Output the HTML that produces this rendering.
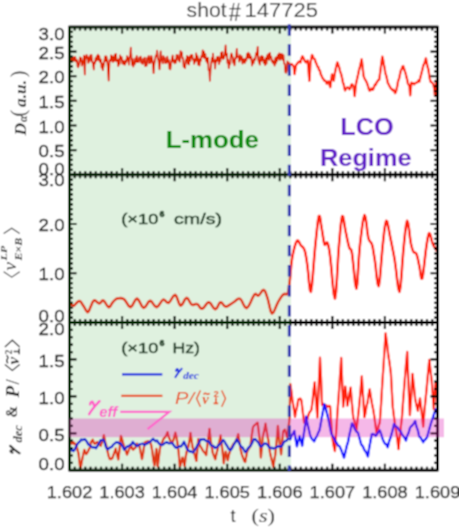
<!DOCTYPE html>
<html><head><meta charset="utf-8"><style>
html,body{margin:0;padding:0;background:#fff;}
svg{display:block;}
text{font-family:"Liberation Sans",sans-serif;}
.srf, .srf text{font-family:"Liberation Serif",serif;}
</style></head><body>
<svg width="459" height="528" viewBox="0 0 459 528">
<defs>
<clipPath id="cg"><rect x="69.5" y="27.0" width="221.5" height="443.2"/></clipPath>
<clipPath id="cw"><rect x="291.0" y="27.0" width="147.5" height="443.2"/></clipPath>
<filter id="bl" x="0" y="0" width="459" height="528" filterUnits="userSpaceOnUse"><feConvolveMatrix order="3" kernelMatrix="1 2 1 2 4 2 1 2 1" divisor="16" edgeMode="duplicate" preserveAlpha="true"/></filter>
</defs>
<g filter="url(#bl)">
<rect x="0" y="0" width="459" height="528" fill="#fff"/>

<polyline clip-path="url(#cw)" points="69.2,61.5 70.1,63.6 71.0,58.5 71.9,61.3 72.8,56.9 73.4,60.8 74.0,57.6 74.6,60.6 75.2,57.0 76.1,61.7 77.0,60.3 77.6,66.4 78.2,67.2 79.0,64.6 80.0,57.3 80.6,61.2 81.2,58.2 81.8,65.7 82.4,60.8 83.2,63.3 84.0,55.6 84.8,74.4 85.5,57.9 86.0,56.6 86.6,54.9 87.2,58.5 87.8,56.8 88.4,62.9 89.0,57.9 89.6,61.3 90.2,55.5 90.8,59.7 91.4,54.9 92.2,61.9 93.0,63.5 93.8,69.5 94.4,61.9 95.0,63.4 95.6,58.2 96.2,61.1 96.8,56.1 97.4,59.7 98.0,54.6 98.6,60.4 99.2,55.8 100.1,62.2 101.0,59.7 101.6,67.6 102.2,63.3 102.8,70.1 103.4,66.8 104.2,62.5 105.1,56.4 105.7,61.2 106.4,56.4 107.0,59.6 107.8,66.6 108.7,80.5 109.5,60.2 110.5,61.0 111.1,55.3 111.7,60.7 112.3,56.3 112.9,62.0 113.5,57.2 114.1,61.0 114.7,54.6 115.3,60.6 115.9,53.9 116.7,61.3 117.5,59.9 118.3,66.2 118.9,59.1 119.5,64.1 120.1,55.5 120.7,59.0 121.6,57.1 122.5,63.7 123.1,60.6 123.8,64.3 124.4,61.4 125.0,64.5 125.7,60.3 126.3,62.4 127.0,56.1 127.7,60.2 128.3,58.0 129.0,64.7 129.6,56.5 130.2,56.0 130.8,47.7 132.0,64.8 132.7,59.0 133.3,66.7 134.0,62.7 134.7,64.3 135.3,58.4 136.0,61.8 136.7,56.0 137.3,62.2 138.0,61.0 138.7,62.1 139.3,57.5 140.0,59.6 140.7,56.7 141.3,62.9 142.0,62.5 142.7,64.0 143.3,58.7 144.0,61.8 144.7,57.6 145.3,66.2 146.0,63.0 146.7,65.6 147.3,57.8 148.0,59.3 148.7,55.8 149.3,63.4 150.0,57.9 150.7,62.8 151.3,56.0 152.0,58.3 152.8,62.3 153.6,73.2 154.3,63.9 155.0,60.3 155.7,55.6 156.4,56.1 157.1,50.7 157.8,57.9 158.5,60.5 159.5,69.4 160.7,51.4 161.3,58.8 162.0,60.4 162.7,63.4 163.3,56.0 164.0,58.5 164.7,57.7 165.3,63.1 166.0,61.4 166.7,62.8 167.3,56.6 168.0,62.1 168.8,60.2 169.5,68.7 170.3,69.4 171.5,60.4 172.7,55.5 173.3,62.0 174.0,60.3 174.6,63.3 175.3,59.6 175.9,62.6 176.6,55.0 177.2,57.0 177.8,55.2 178.4,60.3 179.0,58.9 179.7,61.7 180.5,51.2 181.2,54.1 181.8,52.3 182.4,58.5 183.0,58.0 183.7,66.9 184.4,65.8 185.1,68.1 185.7,59.9 186.4,59.9 187.1,55.9 187.7,63.6 188.3,57.2 189.0,64.5 189.7,56.5 190.3,61.2 190.9,55.2 191.6,57.5 192.2,55.0 192.9,59.6 193.5,59.6 194.2,63.9 194.9,59.0 195.5,61.7 196.2,53.4 196.9,60.5 197.5,56.1 198.2,64.8 198.8,58.6 199.5,65.5 200.1,60.0 200.8,60.9 201.4,55.9 202.1,56.6 202.7,50.4 203.4,57.5 204.0,51.6 204.7,58.1 205.3,54.0 206.0,60.9 206.7,57.8 207.3,62.9 208.0,57.8 208.6,70.2 209.3,69.8 209.9,80.8 210.6,68.5 211.2,64.2 211.8,58.0 212.4,61.7 213.0,53.6 213.7,61.8 214.4,60.4 215.1,68.5 215.7,59.7 216.4,61.8 217.0,57.1 217.7,60.5 218.4,56.6 219.1,64.2 219.7,58.3 220.4,61.4 221.0,52.9 221.7,58.0 222.3,51.9 223.2,59.0 224.0,58.1 224.8,55.1 225.6,45.5 226.2,55.3 226.9,53.6 227.5,62.9 228.2,59.9 228.8,68.2 229.5,64.2 230.2,63.7 230.8,55.5 231.5,53.5 232.7,57.3 233.3,62.9 233.9,60.2 234.5,65.4 235.3,57.9 236.0,58.4 236.8,48.8 237.7,57.2 238.5,56.7 239.3,61.7 240.0,55.1 240.8,59.7 241.7,56.4 242.5,63.7 243.1,59.0 243.7,62.3 244.3,59.3 244.9,62.8 245.6,58.6 246.3,60.6 247.0,54.0 247.7,57.7 248.3,52.6 249.0,58.2 249.6,54.2 250.3,58.5 251.2,56.7 252.0,65.5 252.8,60.5 253.5,63.4 254.3,58.7 255.2,59.9 256.0,53.2 256.9,55.1 257.7,46.8 258.4,60.5 259.0,62.1 259.8,64.6 260.5,56.7 261.1,61.0 261.8,55.8 262.4,60.4 263.1,56.9 263.8,63.1 264.5,60.1 265.2,65.2 265.8,58.0 266.5,63.6 267.2,55.3 267.8,59.2 268.5,53.8 269.2,59.9 269.8,52.8 270.5,57.3 271.2,56.7 271.8,61.7 272.5,60.3 273.2,63.4 273.9,61.3 274.6,65.7 275.2,58.2 275.9,63.3 276.5,57.0 277.2,61.0 277.9,55.0 278.6,58.7 279.3,53.4 280.0,59.9 280.7,54.0 281.4,58.5 282.0,54.2 282.7,59.8 283.4,55.1 284.0,63.5 284.7,63.8 285.4,72.2 286.1,72.7 286.8,70.8 287.4,61.5 288.1,66.0 288.8,62.6 289.5,66.9" fill="none" stroke="#ff2810" stroke-width="1.8" stroke-linejoin="round"/>
<polyline clip-path="url(#cg)" points="69.2,61.5 70.1,63.6 71.0,58.5 71.9,61.3 72.8,56.9 73.4,60.8 74.0,57.6 74.6,60.6 75.2,57.0 76.1,61.7 77.0,60.3 77.6,66.4 78.2,67.2 79.0,64.6 80.0,57.3 80.6,61.2 81.2,58.2 81.8,65.7 82.4,60.8 83.2,63.3 84.0,55.6 84.8,74.4 85.5,57.9 86.0,56.6 86.6,54.9 87.2,58.5 87.8,56.8 88.4,62.9 89.0,57.9 89.6,61.3 90.2,55.5 90.8,59.7 91.4,54.9 92.2,61.9 93.0,63.5 93.8,69.5 94.4,61.9 95.0,63.4 95.6,58.2 96.2,61.1 96.8,56.1 97.4,59.7 98.0,54.6 98.6,60.4 99.2,55.8 100.1,62.2 101.0,59.7 101.6,67.6 102.2,63.3 102.8,70.1 103.4,66.8 104.2,62.5 105.1,56.4 105.7,61.2 106.4,56.4 107.0,59.6 107.8,66.6 108.7,80.5 109.5,60.2 110.5,61.0 111.1,55.3 111.7,60.7 112.3,56.3 112.9,62.0 113.5,57.2 114.1,61.0 114.7,54.6 115.3,60.6 115.9,53.9 116.7,61.3 117.5,59.9 118.3,66.2 118.9,59.1 119.5,64.1 120.1,55.5 120.7,59.0 121.6,57.1 122.5,63.7 123.1,60.6 123.8,64.3 124.4,61.4 125.0,64.5 125.7,60.3 126.3,62.4 127.0,56.1 127.7,60.2 128.3,58.0 129.0,64.7 129.6,56.5 130.2,56.0 130.8,47.7 132.0,64.8 132.7,59.0 133.3,66.7 134.0,62.7 134.7,64.3 135.3,58.4 136.0,61.8 136.7,56.0 137.3,62.2 138.0,61.0 138.7,62.1 139.3,57.5 140.0,59.6 140.7,56.7 141.3,62.9 142.0,62.5 142.7,64.0 143.3,58.7 144.0,61.8 144.7,57.6 145.3,66.2 146.0,63.0 146.7,65.6 147.3,57.8 148.0,59.3 148.7,55.8 149.3,63.4 150.0,57.9 150.7,62.8 151.3,56.0 152.0,58.3 152.8,62.3 153.6,73.2 154.3,63.9 155.0,60.3 155.7,55.6 156.4,56.1 157.1,50.7 157.8,57.9 158.5,60.5 159.5,69.4 160.7,51.4 161.3,58.8 162.0,60.4 162.7,63.4 163.3,56.0 164.0,58.5 164.7,57.7 165.3,63.1 166.0,61.4 166.7,62.8 167.3,56.6 168.0,62.1 168.8,60.2 169.5,68.7 170.3,69.4 171.5,60.4 172.7,55.5 173.3,62.0 174.0,60.3 174.6,63.3 175.3,59.6 175.9,62.6 176.6,55.0 177.2,57.0 177.8,55.2 178.4,60.3 179.0,58.9 179.7,61.7 180.5,51.2 181.2,54.1 181.8,52.3 182.4,58.5 183.0,58.0 183.7,66.9 184.4,65.8 185.1,68.1 185.7,59.9 186.4,59.9 187.1,55.9 187.7,63.6 188.3,57.2 189.0,64.5 189.7,56.5 190.3,61.2 190.9,55.2 191.6,57.5 192.2,55.0 192.9,59.6 193.5,59.6 194.2,63.9 194.9,59.0 195.5,61.7 196.2,53.4 196.9,60.5 197.5,56.1 198.2,64.8 198.8,58.6 199.5,65.5 200.1,60.0 200.8,60.9 201.4,55.9 202.1,56.6 202.7,50.4 203.4,57.5 204.0,51.6 204.7,58.1 205.3,54.0 206.0,60.9 206.7,57.8 207.3,62.9 208.0,57.8 208.6,70.2 209.3,69.8 209.9,80.8 210.6,68.5 211.2,64.2 211.8,58.0 212.4,61.7 213.0,53.6 213.7,61.8 214.4,60.4 215.1,68.5 215.7,59.7 216.4,61.8 217.0,57.1 217.7,60.5 218.4,56.6 219.1,64.2 219.7,58.3 220.4,61.4 221.0,52.9 221.7,58.0 222.3,51.9 223.2,59.0 224.0,58.1 224.8,55.1 225.6,45.5 226.2,55.3 226.9,53.6 227.5,62.9 228.2,59.9 228.8,68.2 229.5,64.2 230.2,63.7 230.8,55.5 231.5,53.5 232.7,57.3 233.3,62.9 233.9,60.2 234.5,65.4 235.3,57.9 236.0,58.4 236.8,48.8 237.7,57.2 238.5,56.7 239.3,61.7 240.0,55.1 240.8,59.7 241.7,56.4 242.5,63.7 243.1,59.0 243.7,62.3 244.3,59.3 244.9,62.8 245.6,58.6 246.3,60.6 247.0,54.0 247.7,57.7 248.3,52.6 249.0,58.2 249.6,54.2 250.3,58.5 251.2,56.7 252.0,65.5 252.8,60.5 253.5,63.4 254.3,58.7 255.2,59.9 256.0,53.2 256.9,55.1 257.7,46.8 258.4,60.5 259.0,62.1 259.8,64.6 260.5,56.7 261.1,61.0 261.8,55.8 262.4,60.4 263.1,56.9 263.8,63.1 264.5,60.1 265.2,65.2 265.8,58.0 266.5,63.6 267.2,55.3 267.8,59.2 268.5,53.8 269.2,59.9 269.8,52.8 270.5,57.3 271.2,56.7 271.8,61.7 272.5,60.3 273.2,63.4 273.9,61.3 274.6,65.7 275.2,58.2 275.9,63.3 276.5,57.0 277.2,61.0 277.9,55.0 278.6,58.7 279.3,53.4 280.0,59.9 280.7,54.0 281.4,58.5 282.0,54.2 282.7,59.8 283.4,55.1 284.0,63.5 284.7,63.8 285.4,72.2 286.1,72.7 286.8,70.8 287.4,61.5 288.1,66.0 288.8,62.6 289.5,66.9" fill="none" stroke="#ff1800" stroke-width="1.8" stroke-linejoin="round"/>
<polyline clip-path="url(#cw)" points="289.5,64.6 290.2,65.1 291.0,64.3 291.8,64.0 292.5,65.2 293.7,66.3 294.6,74.0 296.0,65.1 297.2,63.7 298.1,62.4 299.0,61.9 299.8,61.2 300.5,62.5 301.4,58.4 302.4,56.3 303.2,57.4 304.0,59.3 305.0,61.6 305.9,62.4 306.8,61.9 307.7,60.5 308.5,69.8 309.4,80.8 310.5,62.1 311.2,59.3 312.0,54.9 312.7,55.9 313.4,58.2 314.1,58.7 314.8,59.1 315.5,61.9 316.5,63.8 317.5,66.6 318.3,67.0 319.1,70.3 319.9,70.5 320.8,74.4 321.6,75.9 322.5,78.0 323.5,79.3 324.5,80.9 325.3,80.7 326.0,81.7 326.8,83.7 327.6,82.3 328.5,81.2 329.4,84.3 330.3,87.1 331.1,80.9 332.0,74.5 332.9,77.1 333.8,80.5 334.6,74.6 335.5,70.0 336.4,65.7 337.3,62.4 338.0,63.8 338.7,66.3 339.4,67.9 340.1,71.4 340.8,73.1 341.5,75.4 342.3,78.9 343.0,82.9 343.7,84.0 344.4,88.3 345.1,90.4 346.1,88.7 347.0,87.7 347.8,87.4 348.7,88.2 349.5,89.2 350.4,88.0 351.2,85.0 352.1,84.3 353.5,86.4 354.7,96.1 356.0,83.8 356.7,80.7 357.5,77.0 358.2,74.2 359.1,69.6 360.0,66.5 360.9,62.5 361.7,59.3 362.6,66.6 363.5,75.6 364.2,77.7 365.0,79.3 366.0,80.9 367.0,83.1 367.9,85.8 368.7,88.7 369.6,90.7 370.6,90.1 371.5,88.5 372.2,89.8 373.0,89.7 374.0,87.0 375.0,84.5 375.8,84.8 376.6,82.3 377.5,81.5 378.3,79.9 379.2,79.8 380.0,73.9 380.8,68.0 381.6,61.7 382.3,56.6 383.1,59.7 383.8,64.3 384.6,68.1 385.3,72.8 386.2,75.6 387.0,79.1 387.9,83.2 388.6,84.1 389.3,85.9 390.0,86.8 390.7,88.3 391.4,89.1 392.1,89.6 392.8,90.4 393.5,89.8 394.2,90.7 395.0,93.1 395.7,92.5 396.6,89.2 397.5,84.7 398.2,80.5 398.9,79.2 399.6,76.3 400.3,72.8 401.0,70.1 401.7,69.1 402.5,66.5 403.2,66.1 404.0,68.4 404.9,71.4 405.7,73.6 406.4,76.9 407.2,79.6 407.9,83.5 408.7,84.7 409.5,86.4 410.2,95.3 411.4,82.7 412.1,83.0 412.8,83.6 413.5,83.2 414.3,84.2 415.0,83.3 415.8,83.0 416.5,82.6 417.2,82.4 417.9,81.7 418.6,80.3 419.3,81.6 420.1,78.5 421.0,75.0 421.9,71.5 422.7,68.2 423.5,64.9 424.3,64.0 425.1,60.9 425.9,58.3 426.7,62.2 427.5,66.6 428.3,69.0 429.1,74.1 429.8,78.7 430.6,81.8 431.5,82.2 432.3,83.0 433.2,84.0 434.2,88.5 435.0,96.0 436.0,84.3 436.7,80.2 437.5,84.0" fill="none" stroke="#ff2810" stroke-width="2.4" stroke-linejoin="round"/>
<polyline clip-path="url(#cg)" points="289.5,64.6 290.2,65.1 291.0,64.3 291.8,64.0 292.5,65.2 293.7,66.3 294.6,74.0 296.0,65.1 297.2,63.7 298.1,62.4 299.0,61.9 299.8,61.2 300.5,62.5 301.4,58.4 302.4,56.3 303.2,57.4 304.0,59.3 305.0,61.6 305.9,62.4 306.8,61.9 307.7,60.5 308.5,69.8 309.4,80.8 310.5,62.1 311.2,59.3 312.0,54.9 312.7,55.9 313.4,58.2 314.1,58.7 314.8,59.1 315.5,61.9 316.5,63.8 317.5,66.6 318.3,67.0 319.1,70.3 319.9,70.5 320.8,74.4 321.6,75.9 322.5,78.0 323.5,79.3 324.5,80.9 325.3,80.7 326.0,81.7 326.8,83.7 327.6,82.3 328.5,81.2 329.4,84.3 330.3,87.1 331.1,80.9 332.0,74.5 332.9,77.1 333.8,80.5 334.6,74.6 335.5,70.0 336.4,65.7 337.3,62.4 338.0,63.8 338.7,66.3 339.4,67.9 340.1,71.4 340.8,73.1 341.5,75.4 342.3,78.9 343.0,82.9 343.7,84.0 344.4,88.3 345.1,90.4 346.1,88.7 347.0,87.7 347.8,87.4 348.7,88.2 349.5,89.2 350.4,88.0 351.2,85.0 352.1,84.3 353.5,86.4 354.7,96.1 356.0,83.8 356.7,80.7 357.5,77.0 358.2,74.2 359.1,69.6 360.0,66.5 360.9,62.5 361.7,59.3 362.6,66.6 363.5,75.6 364.2,77.7 365.0,79.3 366.0,80.9 367.0,83.1 367.9,85.8 368.7,88.7 369.6,90.7 370.6,90.1 371.5,88.5 372.2,89.8 373.0,89.7 374.0,87.0 375.0,84.5 375.8,84.8 376.6,82.3 377.5,81.5 378.3,79.9 379.2,79.8 380.0,73.9 380.8,68.0 381.6,61.7 382.3,56.6 383.1,59.7 383.8,64.3 384.6,68.1 385.3,72.8 386.2,75.6 387.0,79.1 387.9,83.2 388.6,84.1 389.3,85.9 390.0,86.8 390.7,88.3 391.4,89.1 392.1,89.6 392.8,90.4 393.5,89.8 394.2,90.7 395.0,93.1 395.7,92.5 396.6,89.2 397.5,84.7 398.2,80.5 398.9,79.2 399.6,76.3 400.3,72.8 401.0,70.1 401.7,69.1 402.5,66.5 403.2,66.1 404.0,68.4 404.9,71.4 405.7,73.6 406.4,76.9 407.2,79.6 407.9,83.5 408.7,84.7 409.5,86.4 410.2,95.3 411.4,82.7 412.1,83.0 412.8,83.6 413.5,83.2 414.3,84.2 415.0,83.3 415.8,83.0 416.5,82.6 417.2,82.4 417.9,81.7 418.6,80.3 419.3,81.6 420.1,78.5 421.0,75.0 421.9,71.5 422.7,68.2 423.5,64.9 424.3,64.0 425.1,60.9 425.9,58.3 426.7,62.2 427.5,66.6 428.3,69.0 429.1,74.1 429.8,78.7 430.6,81.8 431.5,82.2 432.3,83.0 433.2,84.0 434.2,88.5 435.0,96.0 436.0,84.3 436.7,80.2 437.5,84.0" fill="none" stroke="#ff1800" stroke-width="2.4" stroke-linejoin="round"/>
<polyline clip-path="url(#cw)" points="70.0,302.2 70.6,303.0 71.4,304.3 72.3,305.4 73.2,306.0 74.0,305.7 74.8,304.9 75.7,303.8 76.5,303.0 77.3,302.3 78.1,301.5 78.9,301.0 79.8,301.0 80.7,301.7 81.6,303.0 82.5,304.5 83.5,306.0 84.5,307.7 85.6,309.7 86.7,311.4 87.6,312.2 88.4,311.7 89.1,310.4 89.8,308.7 90.5,307.0 91.3,305.2 92.1,303.2 93.1,301.4 94.1,300.4 95.3,300.6 96.7,301.7 98.1,302.9 99.4,303.5 100.4,302.9 101.3,301.7 102.3,300.6 103.3,300.4 104.6,301.7 106.0,303.9 107.4,306.1 108.7,307.2 109.9,306.7 110.9,305.2 111.9,303.5 113.0,302.0 114.0,300.9 115.1,299.9 116.1,299.0 117.4,298.5 118.9,298.2 120.6,298.1 122.3,298.4 124.0,299.2 125.6,301.1 127.3,303.8 128.9,306.2 130.5,307.2 132.1,305.8 133.7,302.8 135.4,299.8 137.0,298.5 138.6,300.0 140.3,303.1 142.0,306.3 143.6,307.9 145.2,306.9 146.9,304.5 148.5,301.9 150.1,300.7 151.7,301.7 153.3,304.0 155.0,306.2 156.6,307.2 158.3,306.0 160.0,303.6 161.6,301.1 163.2,299.6 164.6,299.9 165.9,301.3 167.2,302.6 168.6,302.9 170.2,301.2 171.9,298.4 173.6,295.8 175.2,294.8 176.6,296.6 177.9,300.2 179.2,303.9 180.6,305.7 182.1,304.7 183.6,302.0 185.1,299.2 186.5,297.8 187.9,298.7 189.2,300.9 190.5,303.2 191.8,304.8 193.1,305.0 194.4,304.5 195.7,304.0 197.0,304.0 198.3,305.1 199.5,306.8 200.8,308.3 202.2,308.8 203.8,307.6 205.4,305.4 207.1,303.2 208.8,302.2 210.5,303.3 212.1,305.8 213.8,308.2 215.3,309.3 216.7,308.3 218.0,305.9 219.2,303.5 220.5,302.2 221.8,302.7 223.0,304.3 224.3,305.9 225.8,306.7 227.6,306.2 229.6,304.9 231.7,303.5 233.6,302.2 235.3,301.0 236.9,299.6 238.5,298.7 240.1,298.8 241.7,300.8 243.3,304.1 245.0,307.2 246.7,308.2 248.7,306.0 250.8,301.8 252.8,297.3 254.5,294.4 255.7,293.8 256.6,294.6 257.4,295.5 258.4,295.7 259.7,294.4 261.0,292.4 262.4,290.5 263.7,289.9 264.8,290.8 265.7,292.8 266.6,295.4 267.6,298.3 268.6,302.2 269.7,307.1 270.8,311.4 272.0,313.5 273.4,312.5 274.9,309.3 276.5,305.4 278.0,302.2 279.4,299.8 280.8,297.6 282.1,295.8 283.3,294.4 284.5,293.9 285.7,294.1 286.7,294.2 287.6,293.5 288.2,292.0 288.6,290.1 289.0,287.3 289.5,283.4 290.1,277.7 290.7,270.5 291.4,263.2 292.3,256.9 293.4,251.7 294.6,246.9 295.8,243.1 297.0,240.8 298.0,240.5 299.0,241.9 300.0,243.8 300.9,245.5 301.9,246.4 302.8,247.1 303.7,248.2 304.6,250.2 305.4,253.2 306.1,257.0 306.8,261.4 307.5,266.4 308.3,273.8 309.1,282.9 310.0,290.2 310.9,291.9 311.9,285.4 313.0,273.2 314.1,259.2 315.1,247.4 316.1,237.6 317.1,228.2 318.0,220.6 318.9,216.1 319.7,216.0 320.4,219.3 321.0,224.0 321.7,228.4 322.4,232.6 323.1,237.3 323.8,241.6 324.5,244.5 325.2,244.9 325.9,243.7 326.7,242.4 327.4,242.7 328.1,244.5 328.7,247.1 329.4,251.0 330.2,256.9 331.3,267.6 332.5,281.8 333.8,294.1 335.0,298.6 336.0,291.9 337.0,277.6 337.9,261.0 338.8,247.4 339.7,237.1 340.5,227.7 341.4,220.3 342.2,216.1 343.0,216.4 343.8,220.2 344.6,225.5 345.4,230.3 346.3,234.6 347.3,239.4 348.3,243.9 349.2,247.4 349.9,248.9 350.6,249.1 351.2,249.8 352.0,253.1 353.0,261.7 354.2,273.8 355.3,284.4 356.4,288.6 357.3,283.5 358.0,272.2 358.8,258.8 359.7,247.3 360.8,237.3 362.1,227.2 363.3,219.1 364.5,215.1 365.5,217.3 366.5,224.1 367.4,232.0 368.3,237.9 369.3,240.5 370.2,241.6 371.1,242.6 372.0,244.5 372.8,247.6 373.4,251.4 374.1,255.7 374.9,260.6 375.8,267.8 376.7,276.8 377.7,284.0 378.7,286.1 379.7,280.6 380.6,270.0 381.6,257.6 382.5,247.3 383.4,238.8 384.3,230.7 385.3,224.2 386.2,220.8 387.1,221.4 388.0,225.2 389.0,230.6 390.0,236.0 391.1,241.3 392.3,247.3 393.6,253.8 394.8,260.6 396.0,269.6 397.2,280.3 398.4,288.9 399.5,291.8 400.5,286.4 401.5,275.3 402.4,262.2 403.3,251.1 404.2,241.6 405.2,232.0 406.2,224.4 407.1,220.8 408.1,223.1 409.1,229.7 410.0,237.6 410.9,243.5 411.7,246.8 412.4,249.1 413.0,250.8 413.7,252.1 414.4,252.8 415.1,252.8 415.8,253.0 416.5,254.0 417.2,256.3 418.0,259.5 418.7,263.0 419.4,266.3 420.1,270.4 420.7,275.1 421.4,278.5 422.2,278.6 423.1,273.9 424.1,265.7 425.1,256.6 426.0,249.2 426.8,243.6 427.6,238.7 428.4,234.9 429.2,233.1 430.0,233.9 430.9,236.9 431.7,240.5 432.6,243.5 433.6,245.6 434.6,247.5 435.6,249.0 436.4,250.2 436.9,250.8 437.2,251.0 437.4,251.0 437.5,251.0" fill="none" stroke="#ff2010" stroke-width="2.6" stroke-linejoin="round"/>
<polyline clip-path="url(#cg)" points="70.0,302.2 70.6,303.0 71.4,304.3 72.3,305.4 73.2,306.0 74.0,305.7 74.8,304.9 75.7,303.8 76.5,303.0 77.3,302.3 78.1,301.5 78.9,301.0 79.8,301.0 80.7,301.7 81.6,303.0 82.5,304.5 83.5,306.0 84.5,307.7 85.6,309.7 86.7,311.4 87.6,312.2 88.4,311.7 89.1,310.4 89.8,308.7 90.5,307.0 91.3,305.2 92.1,303.2 93.1,301.4 94.1,300.4 95.3,300.6 96.7,301.7 98.1,302.9 99.4,303.5 100.4,302.9 101.3,301.7 102.3,300.6 103.3,300.4 104.6,301.7 106.0,303.9 107.4,306.1 108.7,307.2 109.9,306.7 110.9,305.2 111.9,303.5 113.0,302.0 114.0,300.9 115.1,299.9 116.1,299.0 117.4,298.5 118.9,298.2 120.6,298.1 122.3,298.4 124.0,299.2 125.6,301.1 127.3,303.8 128.9,306.2 130.5,307.2 132.1,305.8 133.7,302.8 135.4,299.8 137.0,298.5 138.6,300.0 140.3,303.1 142.0,306.3 143.6,307.9 145.2,306.9 146.9,304.5 148.5,301.9 150.1,300.7 151.7,301.7 153.3,304.0 155.0,306.2 156.6,307.2 158.3,306.0 160.0,303.6 161.6,301.1 163.2,299.6 164.6,299.9 165.9,301.3 167.2,302.6 168.6,302.9 170.2,301.2 171.9,298.4 173.6,295.8 175.2,294.8 176.6,296.6 177.9,300.2 179.2,303.9 180.6,305.7 182.1,304.7 183.6,302.0 185.1,299.2 186.5,297.8 187.9,298.7 189.2,300.9 190.5,303.2 191.8,304.8 193.1,305.0 194.4,304.5 195.7,304.0 197.0,304.0 198.3,305.1 199.5,306.8 200.8,308.3 202.2,308.8 203.8,307.6 205.4,305.4 207.1,303.2 208.8,302.2 210.5,303.3 212.1,305.8 213.8,308.2 215.3,309.3 216.7,308.3 218.0,305.9 219.2,303.5 220.5,302.2 221.8,302.7 223.0,304.3 224.3,305.9 225.8,306.7 227.6,306.2 229.6,304.9 231.7,303.5 233.6,302.2 235.3,301.0 236.9,299.6 238.5,298.7 240.1,298.8 241.7,300.8 243.3,304.1 245.0,307.2 246.7,308.2 248.7,306.0 250.8,301.8 252.8,297.3 254.5,294.4 255.7,293.8 256.6,294.6 257.4,295.5 258.4,295.7 259.7,294.4 261.0,292.4 262.4,290.5 263.7,289.9 264.8,290.8 265.7,292.8 266.6,295.4 267.6,298.3 268.6,302.2 269.7,307.1 270.8,311.4 272.0,313.5 273.4,312.5 274.9,309.3 276.5,305.4 278.0,302.2 279.4,299.8 280.8,297.6 282.1,295.8 283.3,294.4 284.5,293.9 285.7,294.1 286.7,294.2 287.6,293.5 288.2,292.0 288.6,290.1 289.0,287.3 289.5,283.4 290.1,277.7 290.7,270.5 291.4,263.2 292.3,256.9 293.4,251.7 294.6,246.9 295.8,243.1 297.0,240.8 298.0,240.5 299.0,241.9 300.0,243.8 300.9,245.5 301.9,246.4 302.8,247.1 303.7,248.2 304.6,250.2 305.4,253.2 306.1,257.0 306.8,261.4 307.5,266.4 308.3,273.8 309.1,282.9 310.0,290.2 310.9,291.9 311.9,285.4 313.0,273.2 314.1,259.2 315.1,247.4 316.1,237.6 317.1,228.2 318.0,220.6 318.9,216.1 319.7,216.0 320.4,219.3 321.0,224.0 321.7,228.4 322.4,232.6 323.1,237.3 323.8,241.6 324.5,244.5 325.2,244.9 325.9,243.7 326.7,242.4 327.4,242.7 328.1,244.5 328.7,247.1 329.4,251.0 330.2,256.9 331.3,267.6 332.5,281.8 333.8,294.1 335.0,298.6 336.0,291.9 337.0,277.6 337.9,261.0 338.8,247.4 339.7,237.1 340.5,227.7 341.4,220.3 342.2,216.1 343.0,216.4 343.8,220.2 344.6,225.5 345.4,230.3 346.3,234.6 347.3,239.4 348.3,243.9 349.2,247.4 349.9,248.9 350.6,249.1 351.2,249.8 352.0,253.1 353.0,261.7 354.2,273.8 355.3,284.4 356.4,288.6 357.3,283.5 358.0,272.2 358.8,258.8 359.7,247.3 360.8,237.3 362.1,227.2 363.3,219.1 364.5,215.1 365.5,217.3 366.5,224.1 367.4,232.0 368.3,237.9 369.3,240.5 370.2,241.6 371.1,242.6 372.0,244.5 372.8,247.6 373.4,251.4 374.1,255.7 374.9,260.6 375.8,267.8 376.7,276.8 377.7,284.0 378.7,286.1 379.7,280.6 380.6,270.0 381.6,257.6 382.5,247.3 383.4,238.8 384.3,230.7 385.3,224.2 386.2,220.8 387.1,221.4 388.0,225.2 389.0,230.6 390.0,236.0 391.1,241.3 392.3,247.3 393.6,253.8 394.8,260.6 396.0,269.6 397.2,280.3 398.4,288.9 399.5,291.8 400.5,286.4 401.5,275.3 402.4,262.2 403.3,251.1 404.2,241.6 405.2,232.0 406.2,224.4 407.1,220.8 408.1,223.1 409.1,229.7 410.0,237.6 410.9,243.5 411.7,246.8 412.4,249.1 413.0,250.8 413.7,252.1 414.4,252.8 415.1,252.8 415.8,253.0 416.5,254.0 417.2,256.3 418.0,259.5 418.7,263.0 419.4,266.3 420.1,270.4 420.7,275.1 421.4,278.5 422.2,278.6 423.1,273.9 424.1,265.7 425.1,256.6 426.0,249.2 426.8,243.6 427.6,238.7 428.4,234.9 429.2,233.1 430.0,233.9 430.9,236.9 431.7,240.5 432.6,243.5 433.6,245.6 434.6,247.5 435.6,249.0 436.4,250.2 436.9,250.8 437.2,251.0 437.4,251.0 437.5,251.0" fill="none" stroke="#ff3c14" stroke-width="2.6" stroke-linejoin="round"/>
<polyline clip-path="url(#cw)" points="70.0,442.9 71.1,442.7 72.1,443.6 73.2,442.0 74.5,444.0 75.8,443.8 77.2,448.5 78.5,453.6 80.4,469.0 81.4,463.8 82.4,458.6 84.3,449.8 85.3,452.3 86.3,454.1 87.6,452.2 88.9,449.3 89.9,447.7 90.9,442.3 92.8,439.7 93.8,442.9 94.8,443.8 96.1,443.0 97.4,441.9 98.5,444.1 99.6,444.5 100.7,445.8 101.8,442.1 102.8,440.6 103.9,435.1 105.2,442.0 106.6,446.8 108.5,455.6 109.8,459.0 111.1,459.1 112.4,458.0 113.8,454.2 115.7,448.7 117.0,454.4 118.3,459.4 119.6,449.0 120.9,435.9 121.9,438.6 122.9,442.5 124.0,446.4 125.0,448.9 126.0,451.7 127.0,454.6 128.1,452.1 129.1,449.0 130.2,447.3 131.2,445.9 132.2,448.7 133.2,449.7 134.2,448.6 135.5,447.5 136.8,443.7 138.1,445.8 139.4,445.9 140.7,452.6 142.0,459.1 143.3,452.2 144.6,442.7 145.7,441.9 146.8,441.8 147.9,441.2 149.0,441.3 150.0,442.1 151.1,444.7 152.2,450.6 153.3,459.7 154.4,465.3 155.4,456.9 156.4,449.0 157.7,466.5 159.0,455.9 160.3,446.3 161.4,443.9 162.5,441.5 163.6,438.8 164.9,437.4 166.2,435.3 167.5,432.1 168.8,437.1 170.1,439.9 171.1,442.7 172.1,443.0 173.2,440.5 174.2,436.9 175.3,432.7 176.3,436.0 177.3,442.2 178.6,451.9 179.9,467.2 181.2,462.3 182.5,457.6 183.6,462.0 184.6,465.9 185.6,457.5 186.6,452.0 188.5,445.9 189.5,440.0 190.5,433.0 191.5,439.6 192.5,446.8 193.8,450.8 195.1,456.6 196.4,460.8 198.3,439.1 199.3,443.5 200.3,446.4 201.6,448.2 202.9,450.7 204.0,452.1 205.1,453.1 206.2,455.1 207.3,445.7 208.4,437.4 209.5,428.8 210.8,441.3 212.7,452.6 214.0,456.1 215.3,459.2 216.3,454.6 217.3,450.4 218.4,445.4 219.5,440.7 220.6,435.5 222.5,451.0 223.8,463.3 224.8,455.9 225.8,451.6 226.8,455.8 227.8,460.3 229.1,454.1 230.4,449.7 231.5,447.5 232.5,445.7 233.6,443.7 234.8,442.9 235.9,440.5 237.0,438.4 238.2,434.1 239.4,440.9 240.6,449.5 241.9,454.6 243.2,458.0 244.2,461.0 245.2,462.1 246.2,456.6 247.2,451.4 248.3,449.4 249.3,447.8 250.4,446.3 251.7,435.9 253.0,427.1 254.3,425.3 255.6,424.3 256.6,423.3 257.6,422.6 258.6,430.6 259.6,438.9 260.9,457.5 262.8,437.1 264.1,431.1 265.5,423.6 267.4,435.3 268.7,442.4 270.0,452.7 271.1,457.4 272.2,462.0 273.3,466.9 274.3,460.4 275.3,454.6 276.6,441.0 277.9,425.8 279.8,444.0 281.1,454.3 282.1,443.3 283.1,431.7 284.1,430.0 285.1,429.7 287.0,437.2 287.7,435.5 289.6,417.5 290.3,384.2 291.4,391.4 292.4,400.0 293.7,408.2 295.0,416.8 296.1,410.7 297.2,406.4 298.3,399.5 299.3,398.9 300.4,398.6 301.4,400.3 302.8,412.0 304.1,422.6 305.2,420.4 306.4,419.7 307.5,418.6 308.5,414.8 309.5,412.3 310.5,411.2 311.5,409.4 312.6,400.8 313.6,390.2 314.7,382.5 316.0,400.2 317.4,417.5 318.7,386.2 320.0,357.7 321.1,379.9 322.1,405.1 323.1,403.9 324.1,404.2 325.1,406.0 326.1,405.1 327.1,407.1 328.1,406.3 329.1,405.8 330.1,406.3 331.1,421.3 332.2,436.4 333.5,445.2 334.9,451.1 336.2,431.8 337.5,411.5 338.7,395.8 340.0,375.9 341.2,358.0 342.2,382.0 343.2,406.7 344.2,397.4 345.3,386.7 346.4,395.6 347.4,405.6 348.5,400.1 349.5,393.3 350.6,387.6 352.0,404.1 353.3,418.1 354.3,420.7 355.4,426.8 356.4,430.5 357.8,418.6 359.1,406.6 360.5,391.5 361.8,376.4 363.1,397.0 364.4,417.1 365.4,413.4 366.5,406.0 367.6,402.4 368.6,394.7 369.7,389.3 370.9,397.2 372.0,403.8 373.2,409.4 374.3,416.4 375.5,425.5 376.6,433.2 377.7,431.0 378.7,425.6 379.8,422.4 381.1,403.9 382.4,381.8 383.5,366.0 384.5,350.2 385.6,333.3 387.0,343.4 388.3,355.3 389.6,363.3 390.9,373.5 392.7,406.4 394.0,416.9 395.3,426.5 396.4,432.6 397.4,439.9 398.5,449.2 399.6,438.1 400.8,427.0 401.9,418.1 403.2,399.8 404.6,382.4 405.9,365.8 407.2,351.9 408.5,384.1 409.9,415.2 411.2,396.2 412.5,373.9 413.9,386.4 415.2,398.9 416.5,405.5 417.9,410.8 418.9,404.0 420.0,398.4 421.1,407.7 422.1,416.6 423.2,426.6 424.5,410.1 425.8,397.1 427.0,384.6 428.1,372.4 429.3,359.9 430.6,371.4 431.9,382.6 433.8,409.1 435.6,382.6 437.2,388.4" fill="none" stroke="#ff2010" stroke-width="2.3" stroke-linejoin="round"/>
<polyline clip-path="url(#cg)" points="70.0,442.9 71.1,442.7 72.1,443.6 73.2,442.0 74.5,444.0 75.8,443.8 77.2,448.5 78.5,453.6 80.4,469.0 81.4,463.8 82.4,458.6 84.3,449.8 85.3,452.3 86.3,454.1 87.6,452.2 88.9,449.3 89.9,447.7 90.9,442.3 92.8,439.7 93.8,442.9 94.8,443.8 96.1,443.0 97.4,441.9 98.5,444.1 99.6,444.5 100.7,445.8 101.8,442.1 102.8,440.6 103.9,435.1 105.2,442.0 106.6,446.8 108.5,455.6 109.8,459.0 111.1,459.1 112.4,458.0 113.8,454.2 115.7,448.7 117.0,454.4 118.3,459.4 119.6,449.0 120.9,435.9 121.9,438.6 122.9,442.5 124.0,446.4 125.0,448.9 126.0,451.7 127.0,454.6 128.1,452.1 129.1,449.0 130.2,447.3 131.2,445.9 132.2,448.7 133.2,449.7 134.2,448.6 135.5,447.5 136.8,443.7 138.1,445.8 139.4,445.9 140.7,452.6 142.0,459.1 143.3,452.2 144.6,442.7 145.7,441.9 146.8,441.8 147.9,441.2 149.0,441.3 150.0,442.1 151.1,444.7 152.2,450.6 153.3,459.7 154.4,465.3 155.4,456.9 156.4,449.0 157.7,466.5 159.0,455.9 160.3,446.3 161.4,443.9 162.5,441.5 163.6,438.8 164.9,437.4 166.2,435.3 167.5,432.1 168.8,437.1 170.1,439.9 171.1,442.7 172.1,443.0 173.2,440.5 174.2,436.9 175.3,432.7 176.3,436.0 177.3,442.2 178.6,451.9 179.9,467.2 181.2,462.3 182.5,457.6 183.6,462.0 184.6,465.9 185.6,457.5 186.6,452.0 188.5,445.9 189.5,440.0 190.5,433.0 191.5,439.6 192.5,446.8 193.8,450.8 195.1,456.6 196.4,460.8 198.3,439.1 199.3,443.5 200.3,446.4 201.6,448.2 202.9,450.7 204.0,452.1 205.1,453.1 206.2,455.1 207.3,445.7 208.4,437.4 209.5,428.8 210.8,441.3 212.7,452.6 214.0,456.1 215.3,459.2 216.3,454.6 217.3,450.4 218.4,445.4 219.5,440.7 220.6,435.5 222.5,451.0 223.8,463.3 224.8,455.9 225.8,451.6 226.8,455.8 227.8,460.3 229.1,454.1 230.4,449.7 231.5,447.5 232.5,445.7 233.6,443.7 234.8,442.9 235.9,440.5 237.0,438.4 238.2,434.1 239.4,440.9 240.6,449.5 241.9,454.6 243.2,458.0 244.2,461.0 245.2,462.1 246.2,456.6 247.2,451.4 248.3,449.4 249.3,447.8 250.4,446.3 251.7,435.9 253.0,427.1 254.3,425.3 255.6,424.3 256.6,423.3 257.6,422.6 258.6,430.6 259.6,438.9 260.9,457.5 262.8,437.1 264.1,431.1 265.5,423.6 267.4,435.3 268.7,442.4 270.0,452.7 271.1,457.4 272.2,462.0 273.3,466.9 274.3,460.4 275.3,454.6 276.6,441.0 277.9,425.8 279.8,444.0 281.1,454.3 282.1,443.3 283.1,431.7 284.1,430.0 285.1,429.7 287.0,437.2 287.7,435.5 289.6,417.5 290.3,384.2 291.4,391.4 292.4,400.0 293.7,408.2 295.0,416.8 296.1,410.7 297.2,406.4 298.3,399.5 299.3,398.9 300.4,398.6 301.4,400.3 302.8,412.0 304.1,422.6 305.2,420.4 306.4,419.7 307.5,418.6 308.5,414.8 309.5,412.3 310.5,411.2 311.5,409.4 312.6,400.8 313.6,390.2 314.7,382.5 316.0,400.2 317.4,417.5 318.7,386.2 320.0,357.7 321.1,379.9 322.1,405.1 323.1,403.9 324.1,404.2 325.1,406.0 326.1,405.1 327.1,407.1 328.1,406.3 329.1,405.8 330.1,406.3 331.1,421.3 332.2,436.4 333.5,445.2 334.9,451.1 336.2,431.8 337.5,411.5 338.7,395.8 340.0,375.9 341.2,358.0 342.2,382.0 343.2,406.7 344.2,397.4 345.3,386.7 346.4,395.6 347.4,405.6 348.5,400.1 349.5,393.3 350.6,387.6 352.0,404.1 353.3,418.1 354.3,420.7 355.4,426.8 356.4,430.5 357.8,418.6 359.1,406.6 360.5,391.5 361.8,376.4 363.1,397.0 364.4,417.1 365.4,413.4 366.5,406.0 367.6,402.4 368.6,394.7 369.7,389.3 370.9,397.2 372.0,403.8 373.2,409.4 374.3,416.4 375.5,425.5 376.6,433.2 377.7,431.0 378.7,425.6 379.8,422.4 381.1,403.9 382.4,381.8 383.5,366.0 384.5,350.2 385.6,333.3 387.0,343.4 388.3,355.3 389.6,363.3 390.9,373.5 392.7,406.4 394.0,416.9 395.3,426.5 396.4,432.6 397.4,439.9 398.5,449.2 399.6,438.1 400.8,427.0 401.9,418.1 403.2,399.8 404.6,382.4 405.9,365.8 407.2,351.9 408.5,384.1 409.9,415.2 411.2,396.2 412.5,373.9 413.9,386.4 415.2,398.9 416.5,405.5 417.9,410.8 418.9,404.0 420.0,398.4 421.1,407.7 422.1,416.6 423.2,426.6 424.5,410.1 425.8,397.1 427.0,384.6 428.1,372.4 429.3,359.9 430.6,371.4 431.9,382.6 433.8,409.1 435.6,382.6 437.2,388.4" fill="none" stroke="#ff3c14" stroke-width="2.3" stroke-linejoin="round"/>
<polyline clip-path="url(#cw)" points="70.0,450.1 71.6,449.9 73.2,451.1 74.5,449.8 75.9,446.9 77.2,444.4 78.5,442.6 79.8,441.7 81.1,439.5 82.4,440.1 83.7,439.5 85.0,439.3 86.7,441.4 88.3,444.4 89.6,445.1 90.9,446.4 92.2,447.3 93.5,447.3 94.8,447.4 96.1,448.2 97.6,445.7 99.2,442.9 100.7,440.2 102.0,440.1 103.3,439.5 104.6,442.1 105.9,446.7 107.2,449.3 108.7,448.6 110.3,447.3 111.8,446.8 113.3,444.6 114.9,443.4 116.4,442.1 117.7,442.1 119.0,443.5 120.3,443.2 121.6,444.8 122.9,446.9 124.2,449.8 125.8,447.9 127.3,446.4 128.9,446.2 130.2,444.9 131.5,444.4 132.8,441.9 134.1,443.5 135.5,445.1 136.8,446.2 138.1,445.9 139.4,444.1 140.7,444.1 142.0,443.8 143.3,443.9 144.6,445.2 145.9,443.9 147.2,443.8 148.5,442.3 150.0,442.0 151.6,440.2 153.1,438.8 154.4,440.3 155.7,441.2 157.0,440.5 158.5,442.8 160.1,444.4 161.6,445.2 162.9,444.7 164.2,443.5 165.5,442.8 166.8,442.1 168.1,443.0 169.4,443.4 170.8,443.0 172.1,443.0 173.6,445.0 175.1,447.1 176.6,447.8 178.1,447.1 179.7,446.1 181.2,446.2 182.6,444.2 184.0,441.8 185.6,445.4 187.2,449.4 188.5,450.5 189.8,451.5 191.2,451.4 192.5,452.4 193.8,451.5 195.1,449.3 196.4,447.4 197.7,444.8 199.0,443.2 200.3,439.5 201.6,439.7 202.9,439.2 204.2,439.1 205.5,440.4 206.8,441.3 208.1,440.9 209.4,442.4 210.8,445.0 212.1,445.9 213.4,446.0 214.7,447.9 216.0,447.6 217.3,446.9 218.6,444.9 219.9,444.4 221.6,442.1 223.2,440.0 224.5,441.5 225.8,444.0 227.1,445.9 228.8,449.0 230.4,450.3 232.0,448.2 233.6,444.9 235.2,442.5 236.9,439.2 238.6,442.1 240.2,445.1 241.3,447.1 242.6,447.5 243.9,449.9 245.2,452.1 246.5,451.0 247.8,448.5 249.1,447.1 250.6,445.6 252.2,442.8 253.7,439.2 255.3,439.1 257.0,441.2 258.3,442.3 259.6,445.1 260.9,446.6 262.4,445.8 264.0,443.7 265.5,443.6 266.8,444.0 268.1,445.5 269.4,447.6 270.7,448.2 272.0,447.8 273.3,448.5 274.6,448.2 275.9,447.7 277.2,446.8 278.5,446.2 279.8,446.2 281.1,446.8 282.4,445.3 283.8,442.1 285.1,441.2 286.7,440.6 288.3,438.5 290.3,439.3 291.6,435.5 293.0,433.6 294.3,430.9 295.6,439.0 296.9,446.4 298.2,441.2 299.6,436.1 300.9,440.6 302.2,445.7 303.5,436.0 304.9,426.7 306.2,416.7 307.5,423.9 308.9,429.8 310.2,435.6 311.5,438.2 312.9,440.0 314.2,441.3 315.5,438.2 316.9,436.1 318.2,432.8 319.5,430.2 320.7,424.1 321.9,416.9 323.1,410.8 324.3,404.3 325.9,408.9 327.4,415.1 328.7,420.4 330.1,427.7 331.4,433.9 332.7,436.2 334.1,438.1 335.4,441.4 336.7,443.0 338.1,445.7 339.4,446.1 341.5,450.6 342.8,454.4 344.0,457.7 345.3,452.5 346.7,446.2 348.0,442.2 349.3,435.2 350.6,429.7 351.9,423.5 353.2,424.9 354.6,428.6 356.3,431.5 358.0,432.8 359.6,438.5 361.2,444.4 362.8,446.2 364.4,450.0 366.1,452.3 367.9,456.5 369.2,447.9 370.5,441.0 371.8,434.2 373.1,433.9 374.5,434.8 375.8,436.0 377.1,434.0 378.5,431.8 379.8,430.3 381.1,433.8 382.5,438.6 383.8,441.7 385.1,443.8 386.4,444.4 387.7,447.2 389.0,441.7 390.4,437.9 391.7,433.7 394.0,424.0 395.3,426.1 396.7,426.9 398.0,428.2 399.3,430.5 400.6,431.1 401.9,434.3 403.2,435.9 404.6,437.7 405.9,440.6 407.2,435.7 408.6,432.9 409.9,428.2 411.2,426.2 412.5,425.2 413.9,423.1 415.2,421.0 416.5,426.7 417.9,430.4 419.2,436.5 420.5,437.4 421.9,439.8 423.2,442.2 424.5,440.2 425.8,439.0 427.1,437.1 428.5,432.0 429.8,427.4 431.1,422.9 432.4,419.1 434.0,414.1 435.6,409.6 437.5,408.3" fill="none" stroke="#1414ff" stroke-width="2.4" stroke-linejoin="round"/>
<polyline clip-path="url(#cg)" points="70.0,450.1 71.6,449.9 73.2,451.1 74.5,449.8 75.9,446.9 77.2,444.4 78.5,442.6 79.8,441.7 81.1,439.5 82.4,440.1 83.7,439.5 85.0,439.3 86.7,441.4 88.3,444.4 89.6,445.1 90.9,446.4 92.2,447.3 93.5,447.3 94.8,447.4 96.1,448.2 97.6,445.7 99.2,442.9 100.7,440.2 102.0,440.1 103.3,439.5 104.6,442.1 105.9,446.7 107.2,449.3 108.7,448.6 110.3,447.3 111.8,446.8 113.3,444.6 114.9,443.4 116.4,442.1 117.7,442.1 119.0,443.5 120.3,443.2 121.6,444.8 122.9,446.9 124.2,449.8 125.8,447.9 127.3,446.4 128.9,446.2 130.2,444.9 131.5,444.4 132.8,441.9 134.1,443.5 135.5,445.1 136.8,446.2 138.1,445.9 139.4,444.1 140.7,444.1 142.0,443.8 143.3,443.9 144.6,445.2 145.9,443.9 147.2,443.8 148.5,442.3 150.0,442.0 151.6,440.2 153.1,438.8 154.4,440.3 155.7,441.2 157.0,440.5 158.5,442.8 160.1,444.4 161.6,445.2 162.9,444.7 164.2,443.5 165.5,442.8 166.8,442.1 168.1,443.0 169.4,443.4 170.8,443.0 172.1,443.0 173.6,445.0 175.1,447.1 176.6,447.8 178.1,447.1 179.7,446.1 181.2,446.2 182.6,444.2 184.0,441.8 185.6,445.4 187.2,449.4 188.5,450.5 189.8,451.5 191.2,451.4 192.5,452.4 193.8,451.5 195.1,449.3 196.4,447.4 197.7,444.8 199.0,443.2 200.3,439.5 201.6,439.7 202.9,439.2 204.2,439.1 205.5,440.4 206.8,441.3 208.1,440.9 209.4,442.4 210.8,445.0 212.1,445.9 213.4,446.0 214.7,447.9 216.0,447.6 217.3,446.9 218.6,444.9 219.9,444.4 221.6,442.1 223.2,440.0 224.5,441.5 225.8,444.0 227.1,445.9 228.8,449.0 230.4,450.3 232.0,448.2 233.6,444.9 235.2,442.5 236.9,439.2 238.6,442.1 240.2,445.1 241.3,447.1 242.6,447.5 243.9,449.9 245.2,452.1 246.5,451.0 247.8,448.5 249.1,447.1 250.6,445.6 252.2,442.8 253.7,439.2 255.3,439.1 257.0,441.2 258.3,442.3 259.6,445.1 260.9,446.6 262.4,445.8 264.0,443.7 265.5,443.6 266.8,444.0 268.1,445.5 269.4,447.6 270.7,448.2 272.0,447.8 273.3,448.5 274.6,448.2 275.9,447.7 277.2,446.8 278.5,446.2 279.8,446.2 281.1,446.8 282.4,445.3 283.8,442.1 285.1,441.2 286.7,440.6 288.3,438.5 290.3,439.3 291.6,435.5 293.0,433.6 294.3,430.9 295.6,439.0 296.9,446.4 298.2,441.2 299.6,436.1 300.9,440.6 302.2,445.7 303.5,436.0 304.9,426.7 306.2,416.7 307.5,423.9 308.9,429.8 310.2,435.6 311.5,438.2 312.9,440.0 314.2,441.3 315.5,438.2 316.9,436.1 318.2,432.8 319.5,430.2 320.7,424.1 321.9,416.9 323.1,410.8 324.3,404.3 325.9,408.9 327.4,415.1 328.7,420.4 330.1,427.7 331.4,433.9 332.7,436.2 334.1,438.1 335.4,441.4 336.7,443.0 338.1,445.7 339.4,446.1 341.5,450.6 342.8,454.4 344.0,457.7 345.3,452.5 346.7,446.2 348.0,442.2 349.3,435.2 350.6,429.7 351.9,423.5 353.2,424.9 354.6,428.6 356.3,431.5 358.0,432.8 359.6,438.5 361.2,444.4 362.8,446.2 364.4,450.0 366.1,452.3 367.9,456.5 369.2,447.9 370.5,441.0 371.8,434.2 373.1,433.9 374.5,434.8 375.8,436.0 377.1,434.0 378.5,431.8 379.8,430.3 381.1,433.8 382.5,438.6 383.8,441.7 385.1,443.8 386.4,444.4 387.7,447.2 389.0,441.7 390.4,437.9 391.7,433.7 394.0,424.0 395.3,426.1 396.7,426.9 398.0,428.2 399.3,430.5 400.6,431.1 401.9,434.3 403.2,435.9 404.6,437.7 405.9,440.6 407.2,435.7 408.6,432.9 409.9,428.2 411.2,426.2 412.5,425.2 413.9,423.1 415.2,421.0 416.5,426.7 417.9,430.4 419.2,436.5 420.5,437.4 421.9,439.8 423.2,442.2 424.5,440.2 425.8,439.0 427.1,437.1 428.5,432.0 429.8,427.4 431.1,422.9 432.4,419.1 434.0,414.1 435.6,409.6 437.5,408.3" fill="none" stroke="#1a2af0" stroke-width="2.4" stroke-linejoin="round"/>
<rect x="69.5" y="27.0" width="221.5" height="443.25" fill="rgb(223,241,223)" style="mix-blend-mode:multiply"/>
<path d="M74.76,27.0v3.5 M74.76,171.25v7.0 M74.76,319.0v7.0 M74.76,470.25v-3.5 M80.01,27.0v3.5 M80.01,171.25v7.0 M80.01,319.0v7.0 M80.01,470.25v-3.5 M85.27,27.0v3.5 M85.27,171.25v7.0 M85.27,319.0v7.0 M85.27,470.25v-3.5 M90.53,27.0v3.5 M90.53,171.25v7.0 M90.53,319.0v7.0 M90.53,470.25v-3.5 M95.79,27.0v3.5 M95.79,171.25v7.0 M95.79,319.0v7.0 M95.79,470.25v-3.5 M101.04,27.0v3.5 M101.04,171.25v7.0 M101.04,319.0v7.0 M101.04,470.25v-3.5 M106.30,27.0v3.5 M106.30,171.25v7.0 M106.30,319.0v7.0 M106.30,470.25v-3.5 M111.56,27.0v3.5 M111.56,171.25v7.0 M111.56,319.0v7.0 M111.56,470.25v-3.5 M116.81,27.0v3.5 M116.81,171.25v7.0 M116.81,319.0v7.0 M116.81,470.25v-3.5 M122.07,27.0v6.5 M122.07,168.25v13.0 M122.07,316.0v13.0 M122.07,470.25v-6.5 M127.33,27.0v3.5 M127.33,171.25v7.0 M127.33,319.0v7.0 M127.33,470.25v-3.5 M132.59,27.0v3.5 M132.59,171.25v7.0 M132.59,319.0v7.0 M132.59,470.25v-3.5 M137.84,27.0v3.5 M137.84,171.25v7.0 M137.84,319.0v7.0 M137.84,470.25v-3.5 M143.10,27.0v3.5 M143.10,171.25v7.0 M143.10,319.0v7.0 M143.10,470.25v-3.5 M148.36,27.0v3.5 M148.36,171.25v7.0 M148.36,319.0v7.0 M148.36,470.25v-3.5 M153.61,27.0v3.5 M153.61,171.25v7.0 M153.61,319.0v7.0 M153.61,470.25v-3.5 M158.87,27.0v3.5 M158.87,171.25v7.0 M158.87,319.0v7.0 M158.87,470.25v-3.5 M164.13,27.0v3.5 M164.13,171.25v7.0 M164.13,319.0v7.0 M164.13,470.25v-3.5 M169.39,27.0v3.5 M169.39,171.25v7.0 M169.39,319.0v7.0 M169.39,470.25v-3.5 M174.64,27.0v6.5 M174.64,168.25v13.0 M174.64,316.0v13.0 M174.64,470.25v-6.5 M179.90,27.0v3.5 M179.90,171.25v7.0 M179.90,319.0v7.0 M179.90,470.25v-3.5 M185.16,27.0v3.5 M185.16,171.25v7.0 M185.16,319.0v7.0 M185.16,470.25v-3.5 M190.41,27.0v3.5 M190.41,171.25v7.0 M190.41,319.0v7.0 M190.41,470.25v-3.5 M195.67,27.0v3.5 M195.67,171.25v7.0 M195.67,319.0v7.0 M195.67,470.25v-3.5 M200.93,27.0v3.5 M200.93,171.25v7.0 M200.93,319.0v7.0 M200.93,470.25v-3.5 M206.19,27.0v3.5 M206.19,171.25v7.0 M206.19,319.0v7.0 M206.19,470.25v-3.5 M211.44,27.0v3.5 M211.44,171.25v7.0 M211.44,319.0v7.0 M211.44,470.25v-3.5 M216.70,27.0v3.5 M216.70,171.25v7.0 M216.70,319.0v7.0 M216.70,470.25v-3.5 M221.96,27.0v3.5 M221.96,171.25v7.0 M221.96,319.0v7.0 M221.96,470.25v-3.5 M227.21,27.0v6.5 M227.21,168.25v13.0 M227.21,316.0v13.0 M227.21,470.25v-6.5 M232.47,27.0v3.5 M232.47,171.25v7.0 M232.47,319.0v7.0 M232.47,470.25v-3.5 M237.73,27.0v3.5 M237.73,171.25v7.0 M237.73,319.0v7.0 M237.73,470.25v-3.5 M242.99,27.0v3.5 M242.99,171.25v7.0 M242.99,319.0v7.0 M242.99,470.25v-3.5 M248.24,27.0v3.5 M248.24,171.25v7.0 M248.24,319.0v7.0 M248.24,470.25v-3.5 M253.50,27.0v3.5 M253.50,171.25v7.0 M253.50,319.0v7.0 M253.50,470.25v-3.5 M258.76,27.0v3.5 M258.76,171.25v7.0 M258.76,319.0v7.0 M258.76,470.25v-3.5 M264.01,27.0v3.5 M264.01,171.25v7.0 M264.01,319.0v7.0 M264.01,470.25v-3.5 M269.27,27.0v3.5 M269.27,171.25v7.0 M269.27,319.0v7.0 M269.27,470.25v-3.5 M274.53,27.0v3.5 M274.53,171.25v7.0 M274.53,319.0v7.0 M274.53,470.25v-3.5 M279.79,27.0v6.5 M279.79,168.25v13.0 M279.79,316.0v13.0 M279.79,470.25v-6.5 M285.04,27.0v3.5 M285.04,171.25v7.0 M285.04,319.0v7.0 M285.04,470.25v-3.5 M290.30,27.0v3.5 M290.30,171.25v7.0 M290.30,319.0v7.0 M290.30,470.25v-3.5 M295.56,27.0v3.5 M295.56,171.25v7.0 M295.56,319.0v7.0 M295.56,470.25v-3.5 M300.81,27.0v3.5 M300.81,171.25v7.0 M300.81,319.0v7.0 M300.81,470.25v-3.5 M306.07,27.0v3.5 M306.07,171.25v7.0 M306.07,319.0v7.0 M306.07,470.25v-3.5 M311.33,27.0v3.5 M311.33,171.25v7.0 M311.33,319.0v7.0 M311.33,470.25v-3.5 M316.59,27.0v3.5 M316.59,171.25v7.0 M316.59,319.0v7.0 M316.59,470.25v-3.5 M321.84,27.0v3.5 M321.84,171.25v7.0 M321.84,319.0v7.0 M321.84,470.25v-3.5 M327.10,27.0v3.5 M327.10,171.25v7.0 M327.10,319.0v7.0 M327.10,470.25v-3.5 M332.36,27.0v6.5 M332.36,168.25v13.0 M332.36,316.0v13.0 M332.36,470.25v-6.5 M337.61,27.0v3.5 M337.61,171.25v7.0 M337.61,319.0v7.0 M337.61,470.25v-3.5 M342.87,27.0v3.5 M342.87,171.25v7.0 M342.87,319.0v7.0 M342.87,470.25v-3.5 M348.13,27.0v3.5 M348.13,171.25v7.0 M348.13,319.0v7.0 M348.13,470.25v-3.5 M353.39,27.0v3.5 M353.39,171.25v7.0 M353.39,319.0v7.0 M353.39,470.25v-3.5 M358.64,27.0v3.5 M358.64,171.25v7.0 M358.64,319.0v7.0 M358.64,470.25v-3.5 M363.90,27.0v3.5 M363.90,171.25v7.0 M363.90,319.0v7.0 M363.90,470.25v-3.5 M369.16,27.0v3.5 M369.16,171.25v7.0 M369.16,319.0v7.0 M369.16,470.25v-3.5 M374.41,27.0v3.5 M374.41,171.25v7.0 M374.41,319.0v7.0 M374.41,470.25v-3.5 M379.67,27.0v3.5 M379.67,171.25v7.0 M379.67,319.0v7.0 M379.67,470.25v-3.5 M384.93,27.0v6.5 M384.93,168.25v13.0 M384.93,316.0v13.0 M384.93,470.25v-6.5 M390.19,27.0v3.5 M390.19,171.25v7.0 M390.19,319.0v7.0 M390.19,470.25v-3.5 M395.44,27.0v3.5 M395.44,171.25v7.0 M395.44,319.0v7.0 M395.44,470.25v-3.5 M400.70,27.0v3.5 M400.70,171.25v7.0 M400.70,319.0v7.0 M400.70,470.25v-3.5 M405.96,27.0v3.5 M405.96,171.25v7.0 M405.96,319.0v7.0 M405.96,470.25v-3.5 M411.21,27.0v3.5 M411.21,171.25v7.0 M411.21,319.0v7.0 M411.21,470.25v-3.5 M416.47,27.0v3.5 M416.47,171.25v7.0 M416.47,319.0v7.0 M416.47,470.25v-3.5 M421.73,27.0v3.5 M421.73,171.25v7.0 M421.73,319.0v7.0 M421.73,470.25v-3.5 M426.99,27.0v3.5 M426.99,171.25v7.0 M426.99,319.0v7.0 M426.99,470.25v-3.5 M432.24,27.0v3.5 M432.24,171.25v7.0 M432.24,319.0v7.0 M432.24,470.25v-3.5 M69.5,31.93h3.5 M437.5,31.93h-3.5 M69.5,36.85h3.5 M437.5,36.85h-3.5 M69.5,41.77h3.5 M437.5,41.77h-3.5 M69.5,46.70h3.5 M437.5,46.70h-3.5 M69.5,51.62h7 M437.5,51.62h-7 M69.5,56.55h3.5 M437.5,56.55h-3.5 M69.5,61.48h3.5 M437.5,61.48h-3.5 M69.5,66.40h3.5 M437.5,66.40h-3.5 M69.5,71.33h3.5 M437.5,71.33h-3.5 M69.5,76.25h7 M437.5,76.25h-7 M69.5,81.17h3.5 M437.5,81.17h-3.5 M69.5,86.10h3.5 M437.5,86.10h-3.5 M69.5,91.03h3.5 M437.5,91.03h-3.5 M69.5,95.95h3.5 M437.5,95.95h-3.5 M69.5,100.88h7 M437.5,100.88h-7 M69.5,105.80h3.5 M437.5,105.80h-3.5 M69.5,110.72h3.5 M437.5,110.72h-3.5 M69.5,115.65h3.5 M437.5,115.65h-3.5 M69.5,120.58h3.5 M437.5,120.58h-3.5 M69.5,125.50h7 M437.5,125.50h-7 M69.5,130.43h3.5 M437.5,130.43h-3.5 M69.5,135.35h3.5 M437.5,135.35h-3.5 M69.5,140.28h3.5 M437.5,140.28h-3.5 M69.5,145.20h3.5 M437.5,145.20h-3.5 M69.5,150.12h7 M437.5,150.12h-7 M69.5,155.05h3.5 M437.5,155.05h-3.5 M69.5,159.97h3.5 M437.5,159.97h-3.5 M69.5,164.90h3.5 M437.5,164.90h-3.5 M69.5,169.82h3.5 M437.5,169.82h-3.5 M69.5,179.68h3.5 M437.5,179.68h-3.5 M69.5,184.60h3.5 M437.5,184.60h-3.5 M69.5,189.53h3.5 M437.5,189.53h-3.5 M69.5,194.45h3.5 M437.5,194.45h-3.5 M69.5,199.38h3.5 M437.5,199.38h-3.5 M69.5,204.30h3.5 M437.5,204.30h-3.5 M69.5,209.22h3.5 M437.5,209.22h-3.5 M69.5,214.15h3.5 M437.5,214.15h-3.5 M69.5,219.07h3.5 M437.5,219.07h-3.5 M69.5,224.00h7 M437.5,224.00h-7 M69.5,228.93h3.5 M437.5,228.93h-3.5 M69.5,233.85h3.5 M437.5,233.85h-3.5 M69.5,238.78h3.5 M437.5,238.78h-3.5 M69.5,243.70h3.5 M437.5,243.70h-3.5 M69.5,248.62h3.5 M437.5,248.62h-3.5 M69.5,253.55h3.5 M437.5,253.55h-3.5 M69.5,258.48h3.5 M437.5,258.48h-3.5 M69.5,263.40h3.5 M437.5,263.40h-3.5 M69.5,268.32h3.5 M437.5,268.32h-3.5 M69.5,273.25h7 M437.5,273.25h-7 M69.5,278.18h3.5 M437.5,278.18h-3.5 M69.5,283.10h3.5 M437.5,283.10h-3.5 M69.5,288.02h3.5 M437.5,288.02h-3.5 M69.5,292.95h3.5 M437.5,292.95h-3.5 M69.5,297.88h3.5 M437.5,297.88h-3.5 M69.5,302.80h3.5 M437.5,302.80h-3.5 M69.5,307.73h3.5 M437.5,307.73h-3.5 M69.5,312.65h3.5 M437.5,312.65h-3.5 M69.5,317.57h3.5 M437.5,317.57h-3.5 M69.5,329.89h3.5 M437.5,329.89h-3.5 M69.5,337.27h3.5 M437.5,337.27h-3.5 M69.5,344.66h3.5 M437.5,344.66h-3.5 M69.5,352.05h3.5 M437.5,352.05h-3.5 M69.5,359.44h7 M437.5,359.44h-7 M69.5,366.82h3.5 M437.5,366.82h-3.5 M69.5,374.21h3.5 M437.5,374.21h-3.5 M69.5,381.60h3.5 M437.5,381.60h-3.5 M69.5,388.99h3.5 M437.5,388.99h-3.5 M69.5,396.38h7 M437.5,396.38h-7 M69.5,403.76h3.5 M437.5,403.76h-3.5 M69.5,411.15h3.5 M437.5,411.15h-3.5 M69.5,418.54h3.5 M437.5,418.54h-3.5 M69.5,425.93h3.5 M437.5,425.93h-3.5 M69.5,433.31h7 M437.5,433.31h-7 M69.5,440.70h3.5 M437.5,440.70h-3.5 M69.5,448.09h3.5 M437.5,448.09h-3.5 M69.5,455.48h3.5 M437.5,455.48h-3.5 M69.5,462.86h3.5 M437.5,462.86h-3.5" stroke="#000" stroke-width="2.2" fill="none"/>
<rect x="69.5" y="27.0" width="368.0" height="443.25" fill="none" stroke="#000" stroke-width="2.9" stroke-linejoin="round"/>
<path d="M69.5,174.75H437.5M69.5,322.5H437.5" stroke="#000" stroke-width="2.8"/>
<rect x="67.5" y="25.0" width="223.5" height="447.25" fill="rgb(0,40,0)" style="mix-blend-mode:lighten"/>
<rect x="69" y="418.5" width="375" height="18.7" fill="rgb(225,40,185)" fill-opacity="0.33"/>
<line x1="289.3" y1="24.3" x2="289.3" y2="471" stroke="#3038b0" stroke-width="3" stroke-dasharray="11.4 8.66" stroke-linecap="butt"/>
<path d="M120.3,411.8H169.3L147.5,429.2" fill="none" stroke="#ff66cc" stroke-width="2.2" stroke-linejoin="miter"/>
<line x1="122" y1="374.3" x2="162.3" y2="374.3" stroke="#2030e0" stroke-width="2.2"/>
<line x1="121.3" y1="395.8" x2="162.4" y2="395.8" stroke="#e8501e" stroke-width="2.2"/>
<g fill="#363636" font-size="20.5">
<text x="186.6" y="16.5" textLength="40" lengthAdjust="spacingAndGlyphs">shot</text>
<text x="228.6" y="21.2" font-size="26" font-style="italic" textLength="12" lengthAdjust="spacingAndGlyphs">#</text>
<text x="244.6" y="16.5" textLength="73.5" lengthAdjust="spacingAndGlyphs">147725</text>
</g>
<g fill="#1c1c1c" stroke="#1c1c1c" stroke-width="0.3" font-size="16.3" text-anchor="end">
<text x="64.6" y="39.8" textLength="26" lengthAdjust="spacingAndGlyphs">3.0</text>
<text x="64.6" y="58.9" textLength="26" lengthAdjust="spacingAndGlyphs">2.5</text>
<text x="64.6" y="83.3" textLength="26" lengthAdjust="spacingAndGlyphs">2.0</text>
<text x="64.6" y="108.1" textLength="26" lengthAdjust="spacingAndGlyphs">1.5</text>
<text x="64.6" y="132.8" textLength="26" lengthAdjust="spacingAndGlyphs">1.0</text>
<text x="64.6" y="156.8" textLength="26" lengthAdjust="spacingAndGlyphs">0.5</text>
<text x="64.6" y="174.5" textLength="26" lengthAdjust="spacingAndGlyphs">0.0</text>
<text x="64.6" y="185.6" textLength="26" lengthAdjust="spacingAndGlyphs">3.0</text>
<text x="64.6" y="231.2" textLength="26" lengthAdjust="spacingAndGlyphs">2.0</text>
<text x="64.6" y="280.4" textLength="26" lengthAdjust="spacingAndGlyphs">1.0</text>
<text x="64.6" y="322.1" textLength="26" lengthAdjust="spacingAndGlyphs">0.0</text>
<text x="64.6" y="335" textLength="26" lengthAdjust="spacingAndGlyphs">2.0</text>
<text x="64.6" y="367" textLength="26" lengthAdjust="spacingAndGlyphs">1.5</text>
<text x="64.6" y="404.1" textLength="26" lengthAdjust="spacingAndGlyphs">1.0</text>
<text x="64.6" y="441.2" textLength="26" lengthAdjust="spacingAndGlyphs">0.5</text>
<text x="64.6" y="470.3" textLength="26" lengthAdjust="spacingAndGlyphs">0.0</text>
</g>
<g fill="#262626" stroke="#262626" stroke-width="0.25" font-size="16.8" text-anchor="middle">
<text x="69.5" y="498.4" textLength="45.5" lengthAdjust="spacingAndGlyphs">1.602</text>
<text x="122.07" y="498.4" textLength="45.5" lengthAdjust="spacingAndGlyphs">1.603</text>
<text x="174.64" y="498.4" textLength="45.5" lengthAdjust="spacingAndGlyphs">1.604</text>
<text x="227.21" y="498.4" textLength="45.5" lengthAdjust="spacingAndGlyphs">1.605</text>
<text x="279.79" y="498.4" textLength="45.5" lengthAdjust="spacingAndGlyphs">1.606</text>
<text x="332.36" y="498.4" textLength="45.5" lengthAdjust="spacingAndGlyphs">1.607</text>
<text x="384.93" y="498.4" textLength="45.5" lengthAdjust="spacingAndGlyphs">1.608</text>
<text x="437.5" y="498.4" textLength="45.5" lengthAdjust="spacingAndGlyphs">1.609</text>
</g>
<text x="230.5" y="522" font-size="18" fill="#262626">t</text>
<text x="251.5" y="522" font-size="19" fill="#262626" class="srf" textLength="23.5" lengthAdjust="spacingAndGlyphs">(<tspan font-style="italic">s</tspan>)</text>
<text x="165.7" y="147.6" font-size="24.5" font-weight="bold" fill="#0c8a0c" textLength="93.3" lengthAdjust="spacingAndGlyphs">L-mode</text>
<text x="340.2" y="135" font-size="24" font-weight="bold" fill="#6423c8" textLength="53.5" lengthAdjust="spacingAndGlyphs">LCO</text>
<text x="320" y="165.6" font-size="24" font-weight="bold" fill="#6423c8" textLength="91.5" lengthAdjust="spacingAndGlyphs">Regime</text>
<g fill="#1f3a24" font-size="14.5" stroke="#1f3a24" stroke-width="0.45">
<text x="121.3" y="224" textLength="37" lengthAdjust="spacingAndGlyphs">(×10</text>
<text x="159.5" y="216.5" font-size="9" font-weight="bold">6</text>
<text x="174" y="224" textLength="48" lengthAdjust="spacingAndGlyphs">cm/s)</text>
<text x="121.3" y="353.3" textLength="37" lengthAdjust="spacingAndGlyphs">(×10</text>
<text x="159.5" y="345.5" font-size="9" font-weight="bold">6</text>
<text x="172.5" y="353.3" textLength="27.5" lengthAdjust="spacingAndGlyphs">Hz)</text>
</g>
<g fill="#1a2ee0" font-weight="bold" font-style="italic" class="srf">
<path d="M176.00,370.77C176.20,369.22 177.20,368.44 177.75,369.50L178.65,372.28M181.70,368.66L178.65,372.28C177.45,373.95 176.20,375.61 175.45,377.16" fill="none" stroke="#1a2ee0" stroke-width="1.9" stroke-linecap="round"/>
<text x="183.3" y="378.7" font-size="10" textLength="15.4" lengthAdjust="spacingAndGlyphs">dec</text>
</g>
<g fill="#e8501e">
<text x="175" y="403.8" font-size="16.2" font-style="italic" textLength="19" lengthAdjust="spacingAndGlyphs">P/</text>
<path d="M200.4,390.5L196.6,398.6L200.4,406.7M221.7,390.5L225.5,398.6L221.7,406.7" fill="none" stroke="#e8501e" stroke-width="1.4"/>
<text x="202.3" y="403.8" font-size="14.5" font-weight="bold" class="srf" font-style="italic">v</text>
<path d="M203.6,394.4q1.5,-1.8 3,-0.6t3,-0.6" fill="none" stroke="#e8501e" stroke-width="1.5"/>
<text x="213.6" y="396.6" font-size="9.5" font-weight="bold">2</text>
<path d="M213.6,403.4h4.6M215.9,403.4v-5.8" fill="none" stroke="#e8501e" stroke-width="1.6"/>
</g>
<g fill="#ff5cc8" font-style="italic" font-weight="bold" class="srf">
<path d="M90.05,404.41C90.38,402.02 92.05,400.83 92.95,402.45L94.45,406.71M99.51,401.17L94.45,406.71C92.46,409.28 90.38,411.82 89.13,414.21" fill="none" stroke="#ff5cc8" stroke-width="2.4" stroke-linecap="round"/>
<text x="99.3" y="417.2" font-size="14" font-family="Liberation Sans" style="font-family:'Liberation Sans'" textLength="18" lengthAdjust="spacingAndGlyphs">eff</text>
</g>
<g fill="#333" class="srf">
<g transform="translate(25.8,136) rotate(-90)">
<text x="0.5" y="0" font-size="17.5" font-weight="bold" font-style="italic">D</text>
<text x="14" y="1.5" font-size="11.5" font-weight="bold" font-style="italic">α</text>
<text x="19.5" y="-1" font-size="20">(</text>
<text x="29" y="0" font-size="17" font-weight="bold" font-style="italic" textLength="27" lengthAdjust="spacingAndGlyphs">a.u.</text>
<text x="58.8" y="-1" font-size="20">)</text>
</g>
<g transform="translate(16,278) rotate(-90)">
<path d="M6.3,-12.3L0.8,-4.3L6.3,3.7M44.5,-12.3L49.8,-4.3L44.5,3.7" fill="none" stroke="#444" stroke-width="1.1"/>
<text x="7.6" y="0" font-size="19" font-style="italic">v</text>
<text x="17.4" y="-8.6" font-size="8.5" font-weight="bold" font-style="italic" textLength="14.8" lengthAdjust="spacingAndGlyphs">LP</text>
<text x="17.4" y="5.5" font-size="11" font-weight="bold" font-style="italic" textLength="22.8" lengthAdjust="spacingAndGlyphs">E×B</text>
</g>
<g transform="translate(18,455) rotate(-90)">
<path d="M2.48,-5.48C2.71,-7.17 3.88,-8.02 4.52,-6.87L5.58,-3.84M9.14,-7.78L5.58,-3.84C4.17,-2.02 2.71,-0.22 1.83,1.48" fill="none" stroke="#333" stroke-width="2.2" stroke-linecap="round"/>
<text x="12.6" y="3.5" font-size="11.5" font-weight="bold" font-style="italic" textLength="17.3" lengthAdjust="spacingAndGlyphs">dec</text>
<text x="37.4" y="-1.2" font-size="16.5" font-weight="bold" textLength="11.6" lengthAdjust="spacingAndGlyphs">&amp;</text>
<text x="57.5" y="0.5" font-size="19" font-weight="bold" font-style="italic">P</text>
<text x="70.5" y="0.5" font-size="19">/</text>
<path d="M90.5,-13.1L84.6,-5.7L90.5,1.7M108,-13.1L114.8,-5.7L108,1.7" fill="none" stroke="#333" stroke-width="1.3"/>
<text x="90.6" y="0.5" font-size="17" font-weight="bold" font-style="italic">v</text>
<path d="M91.8,-10q2,-2.2 4,-0.7t4,-0.7" fill="none" stroke="#333" stroke-width="1.4"/>
<text x="100.6" y="-6.5" font-size="9.5" font-weight="bold">2</text>
<path d="M100.8,1.2h5.6M103.6,1.2v-5.6" fill="none" stroke="#333" stroke-width="1.5"/>
</g>
</g>

</g></svg>
</body></html>
